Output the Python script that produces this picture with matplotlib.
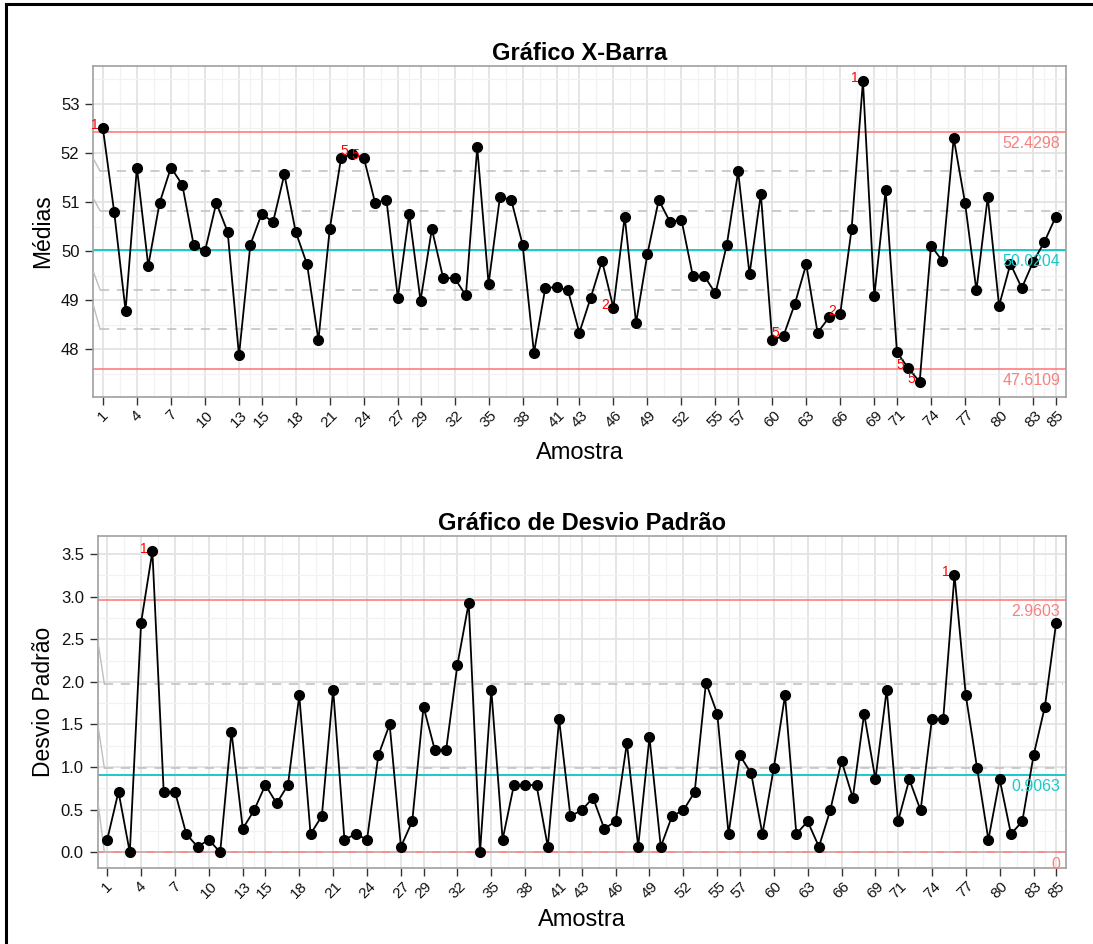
"""
Gráficos de controle X-barra e S para as 85 amostras do processo.
"""

import matplotlib
matplotlib.use("Agg")
import matplotlib.pyplot as plt
from matplotlib.lines import Line2D
from matplotlib.ticker import FixedLocator

plt.rcParams['font.family'] = ['Liberation Sans', 'DejaVu Sans']

amostras = list(range(1, 86))

medias = [52.50, 50.79, 48.79, 51.70, 49.70, 50.98, 51.70, 51.35, 50.13, 50.00,
          50.98, 50.39, 47.88, 50.13, 50.76, 50.59, 51.56, 50.39, 49.73, 48.19,
          50.45, 51.90, 51.97, 51.90, 50.98, 51.04, 49.05, 50.76, 48.99, 50.45,
          49.45, 49.45, 49.10, 52.11, 49.33, 51.10, 51.04, 50.13, 47.93, 49.25,
          49.27, 49.20, 48.34, 49.05, 49.80, 48.85, 50.70, 48.54, 49.94, 51.04,
          50.59, 50.64, 49.50, 49.50, 49.14, 50.13, 51.62, 49.53, 51.16, 48.19,
          48.28, 48.93, 49.73, 48.34, 48.65, 48.73, 50.45, 53.46, 49.08, 51.24,
          47.94, 47.62, 47.34, 50.11, 49.80, 52.30, 50.98, 49.20, 51.10, 48.89,
          49.74, 49.25, 49.78, 50.19, 50.70]

desvios = [0.149, 0.712, 0.000, 2.695, 3.531, 0.712, 0.712, 0.215, 0.066, 0.149,
           0.000, 1.416, 0.278, 0.493, 0.790, 0.575, 0.790, 1.842, 0.215, 0.426,
           1.909, 0.149, 0.215, 0.149, 1.138, 1.502, 0.066, 0.364, 1.709, 1.201,
           1.201, 2.202, 2.925, 0.000, 1.909, 0.149, 0.790, 0.790, 0.790, 0.066,
           1.560, 0.426, 0.493, 0.641, 0.278, 0.364, 1.283, 0.066, 1.349, 0.066,
           0.426, 0.493, 0.708, 1.991, 1.627, 0.215, 1.138, 0.927, 0.215, 0.989,
           1.842, 0.215, 0.364, 0.066, 0.493, 1.072, 0.641, 1.627, 0.856, 1.909,
           0.364, 0.856, 0.493, 1.560, 1.560, 3.254, 1.842, 0.989, 0.149, 0.856,
           0.215, 0.364, 1.138, 1.709, 2.695]

rotulos_x = [1, 4, 7, 10, 13, 15, 18, 21, 24, 27, 29, 32, 35, 38, 41, 43, 46,
             49, 52, 55, 57, 60, 63, 66, 69, 71, 74, 77, 80, 83, 85]

# limites de controle
lc_media, lsc_media, lic_media = 50.0204, 52.4298, 47.6109
zonas_media = [51.6266, 50.8235, 49.2173, 48.4142]
inicio_zonas_media = [51.88, 51.07, 49.58, 48.90]

lc_desvio, lsc_desvio, lic_desvio = 0.9063, 2.9603, 0.0
zonas_desvio = [1.9735, 0.9868, 0.0]
inicio_zonas_desvio = [2.49, 1.51, 0.61]

# pontos que violam alguma regra (amostra, número da regra)
regras_media = [(1, '1'), (23, '5'), (24, '5'), (46, '2'), (61, '5'),
                (66, '2'), (68, '1'), (72, '5'), (73, '5')]
regras_desvio = [(5, '1'), (76, '1')]

VERMELHO = '#FF7373'
CIANO = '#1CC8C8'
CINZA = '#BEBEBE'


def desenhar_painel(ax, valores, titulo, rotulo_y, lc, lsc, lic, zonas,
                    inicio_zonas, regras, ylim, yticks, yminor, fmt):
    """Desenha um gráfico de controle no estilo theme_bw."""
    xmin, xmax = 0.16, 85.87
    ax.set_xlim(xmin, xmax)
    ax.set_ylim(*ylim)

    # grade
    ax.xaxis.set_major_locator(FixedLocator(rotulos_x))
    meios = [(a + b) / 2 for a, b in zip(rotulos_x[:-1], rotulos_x[1:])]
    ax.xaxis.set_minor_locator(FixedLocator(meios))
    ax.yaxis.set_major_locator(FixedLocator(yticks))
    ax.yaxis.set_minor_locator(FixedLocator(yminor))
    ax.grid(which='major', color='#E3E3E3', lw=1.3, zorder=0)
    ax.grid(which='minor', color='#F2F2F2', lw=0.9, zorder=0)
    ax.set_axisbelow(True)
    ax.tick_params(which='minor', length=0)
    ax.tick_params(which='major', length=6, width=1.0, color='#333333',
                   direction='out')
    ax.tick_params(axis='y', labelsize=12, pad=4, labelcolor='#111111')
    ax.tick_params(axis='x', labelsize=11, pad=2, labelcolor='#111111')
    ax.set_yticklabels([fmt.format(v) for v in yticks])
    for lab in ax.get_xticklabels():
        lab.set_rotation(45)
        lab.set_ha('center')
        lab.set_va('top')
    for lado in ax.spines.values():
        lado.set_color('#A0A0A0')
        lado.set_linewidth(1.2)

    # limites de controle e linha central
    ax.axhline(lsc, color=VERMELHO, lw=1.1, zorder=2)
    ax.axhline(lic, color=VERMELHO, lw=1.1, zorder=2)
    ax.axhline(lc, color=CIANO, lw=1.4, zorder=2)

    # zonas (1 e 2 sigma)
    for z, z0 in zip(zonas, inicio_zonas):
        ax.plot([0.75, 85.6], [z, z], color=CINZA, lw=1.1, ls=(0, (6, 5)),
                zorder=3)
        ax.plot([xmin, 0.75], [z0, z], color=CINZA, lw=1.0, zorder=3)

    # valores dos limites no canto direito
    for v, cor in [(lsc, '#F88080'), (lc, CIANO), (lic, '#F88080')]:
        texto = '0' if v == 0 else '{:.4f}'.format(v)
        ax.annotate(texto, xy=(1.0, v), xycoords=('axes fraction', 'data'),
                    xytext=(-4, -3), textcoords='offset points',
                    ha='right', va='top', fontsize=11.5, color=cor, zorder=6)

    ax.plot(amostras, valores, color='black', lw=1.3, marker='o', ms=7,
            zorder=4)

    for i, regra in regras:
        ax.annotate(regra, xy=(i, valores[i - 1]), xytext=(-6, 2),
                    textcoords='offset points', ha='center', va='center',
                    fontsize=10, color='red', zorder=5)

    ax.set_title(titulo, fontsize=17, fontweight='bold', pad=4)
    ax.set_ylabel(rotulo_y, fontsize=16.5, ha='center', va='center')
    ax.set_xlabel('Amostra', fontsize=17, va='baseline')


fig = plt.figure(figsize=(10.93, 9.44), dpi=100)

ax1 = fig.add_axes([0.0854, 0.5798, 0.8896, 0.3506])
desenhar_painel(ax1, medias, 'Gráfico X-Barra', 'Médias',
                lc_media, lsc_media, lic_media, zonas_media,
                inicio_zonas_media, regras_media, (47.04, 53.77),
                [48, 49, 50, 51, 52, 53],
                [47.5, 48.5, 49.5, 50.5, 51.5, 52.5, 53.5], '{:.0f}')
ax1.yaxis.set_label_coords(-0.0517, 0.5)
ax1.xaxis.set_label_coords(0.5, -0.188)

ax2 = fig.add_axes([0.0894, 0.0808, 0.8859, 0.3514])
desenhar_painel(ax2, desvios, 'Gráfico de Desvio Padrão', 'Desvio Padrão',
                lc_desvio, lsc_desvio, lic_desvio, zonas_desvio,
                inicio_zonas_desvio, regras_desvio, (-0.18, 3.711),
                [0.0, 0.5, 1.0, 1.5, 2.0, 2.5, 3.0, 3.5],
                [0.25, 0.75, 1.25, 1.75, 2.25, 2.75, 3.25], '{:.1f}')
ax2.yaxis.set_label_coords(-0.0565, 0.5)
ax2.xaxis.set_label_coords(0.5, -0.177)

# moldura preta à esquerda e no topo
fig.add_artist(Line2D([6 / 1093, 6 / 1093], [0, 1 - 4 / 944], color='black',
                      lw=2.2, transform=fig.transFigure))
fig.add_artist(Line2D([6 / 1093, 1], [1 - 4 / 944, 1 - 4 / 944],
                      color='black', lw=2.2, transform=fig.transFigure))

fig.savefig('out.png', dpi=100)
